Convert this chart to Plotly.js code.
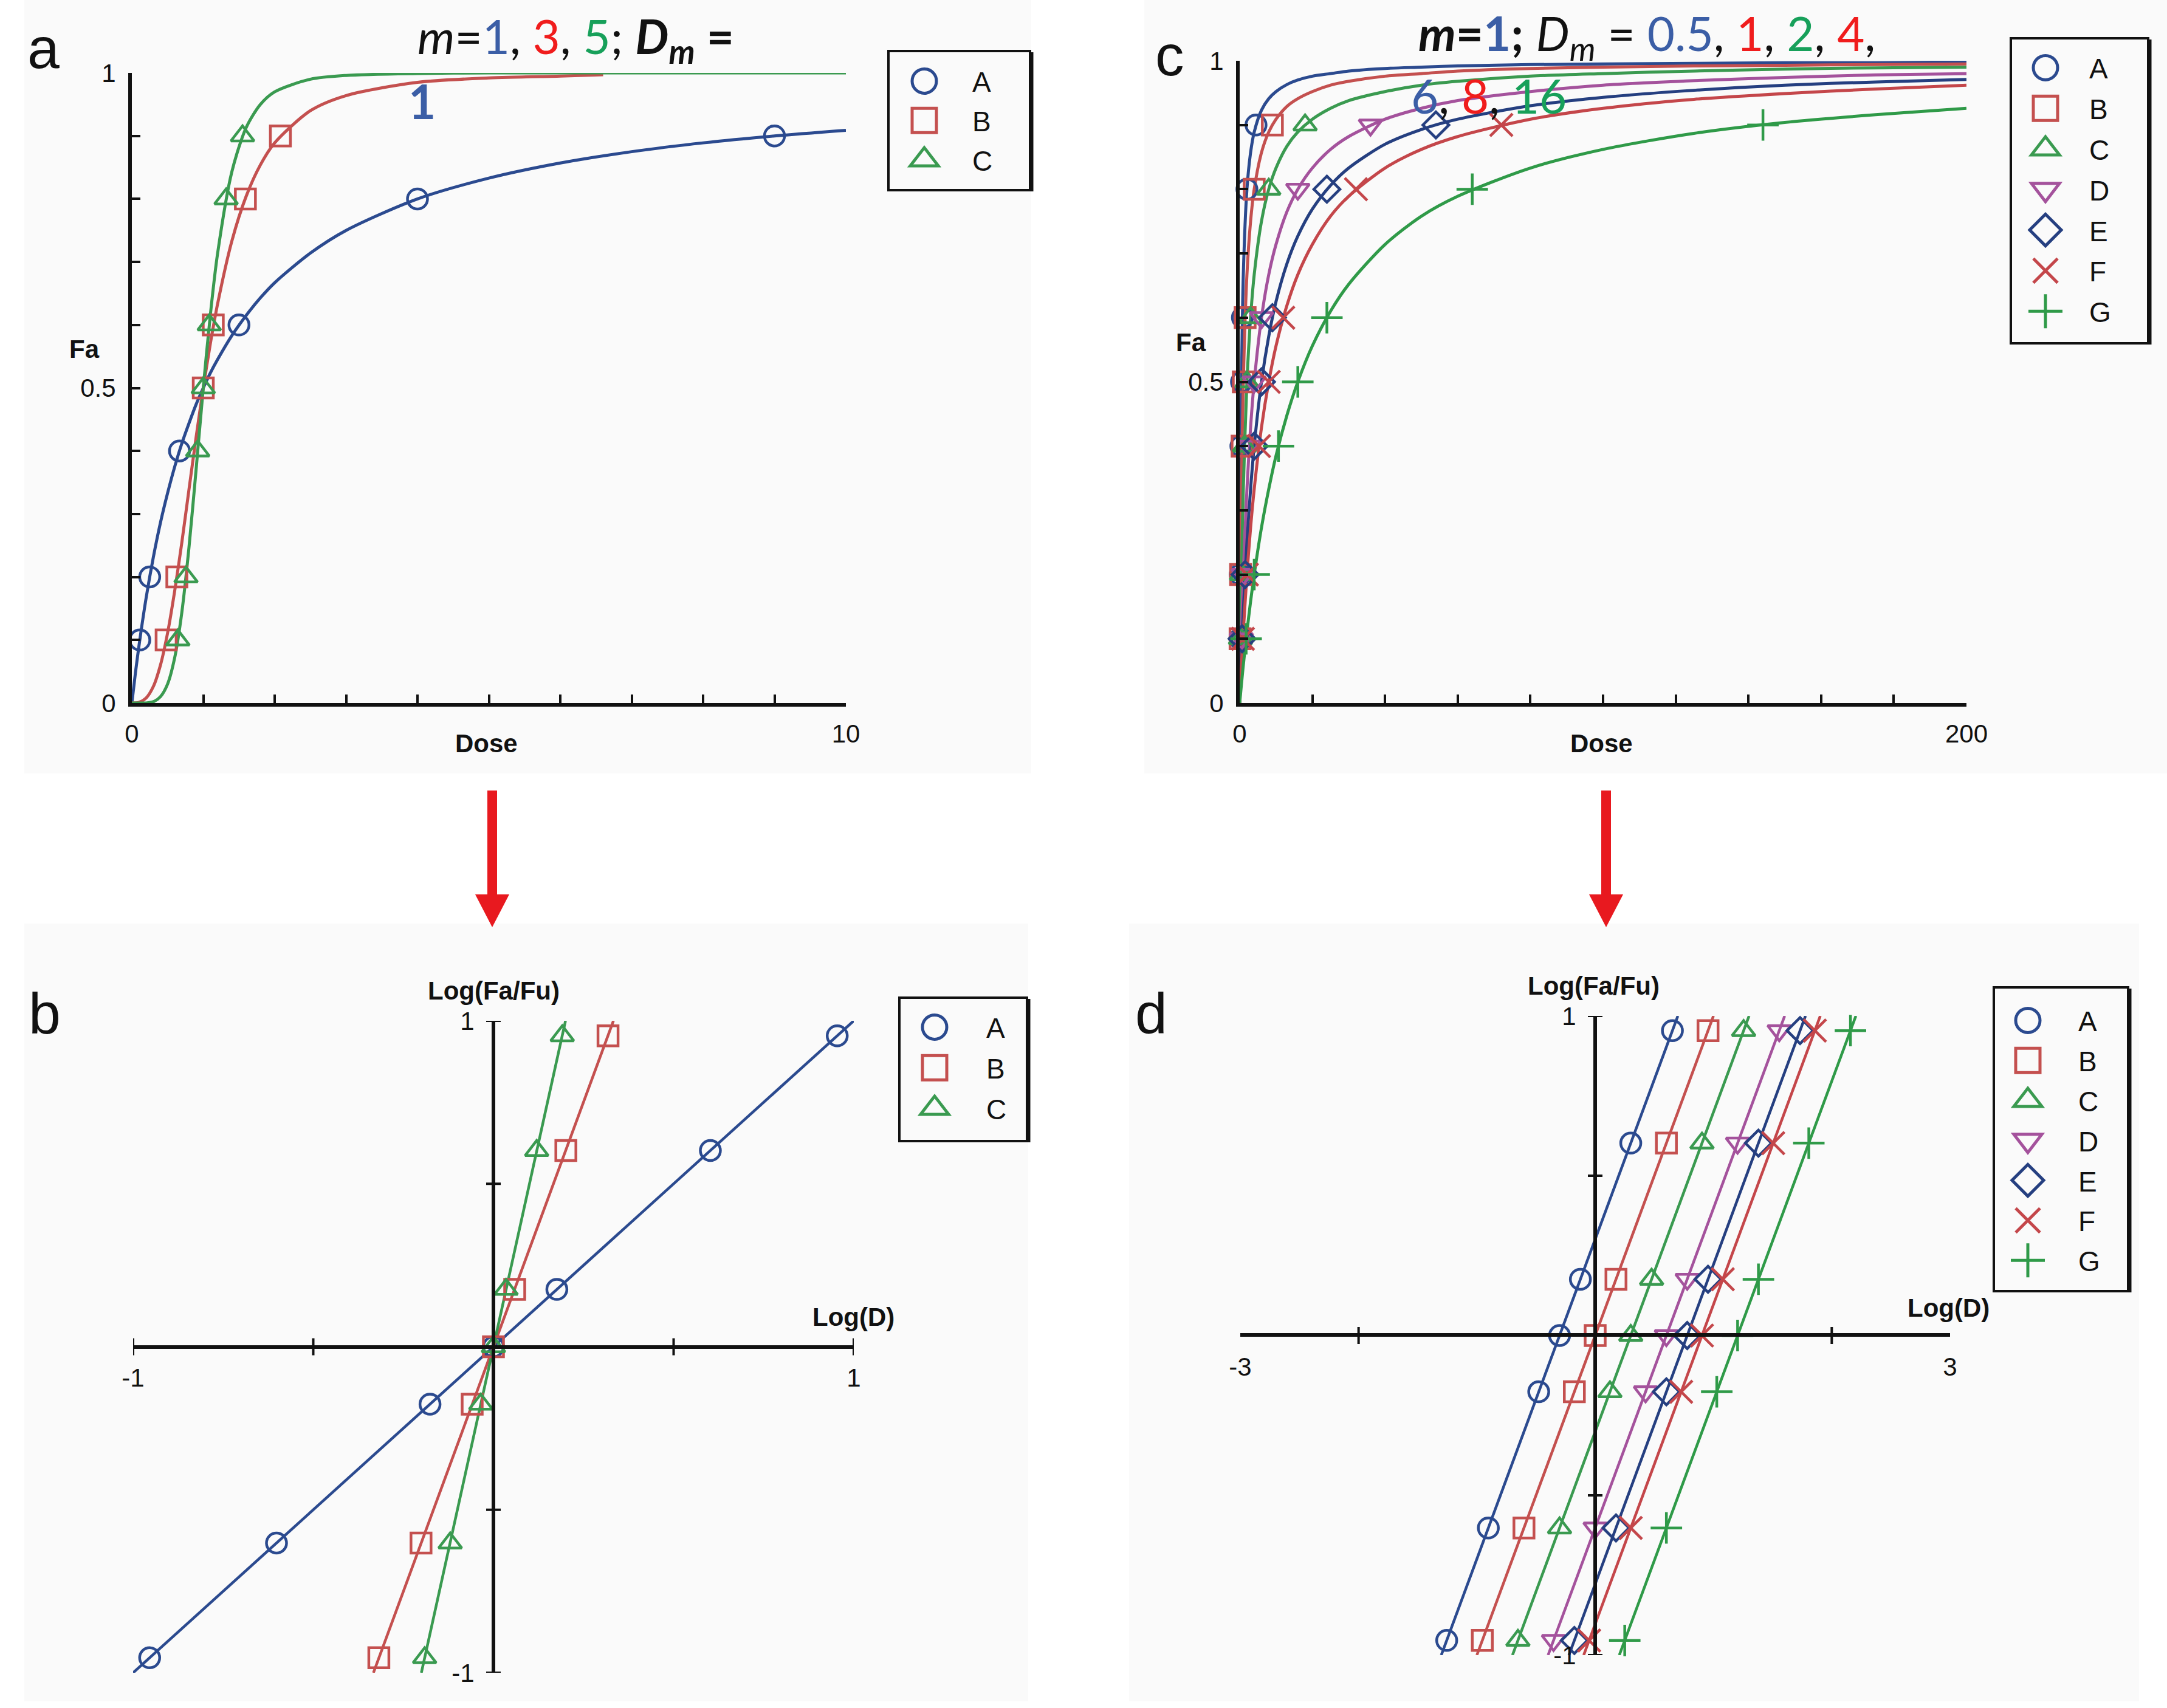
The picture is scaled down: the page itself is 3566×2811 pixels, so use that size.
<!DOCTYPE html>
<html><head><meta charset="utf-8">
<script src="https://cdn.plot.ly/plotly-3.0.1.min.js"></script>
<style>html,body{margin:0;padding:0;background:#fff;}#chart{width:3566px;height:2811px;}</style>
</head><body><div id="chart"></div>
<script>
// ================= DATA =================
const seriesNames = ['A','B','C','D','E','F','G'];

// ---- panel a : Fa vs Dose, m = 1, 3, 5 (Dm = 1) ----
const aCurveDose  = [0,0.05,0.1,0.2,0.3,0.4,0.5,0.6,0.7,0.8,0.9,1,1.1,1.2,1.4,1.6,1.8,2,2.5,3,4,5,6,7,8,9,10];
const aCurveFaA   = [0,0.048,0.091,0.167,0.231,0.286,0.333,0.375,0.412,0.444,0.474,0.5,0.524,0.545,0.583,0.615,0.643,0.667,0.714,0.75,0.8,0.833,0.857,0.875,0.889,0.9,0.909];
const aCurveDoseB = [0,0.1,0.2,0.3,0.4,0.5,0.6,0.7,0.8,0.9,1,1.1,1.2,1.4,1.6,1.8,2,2.5,3,4,5,6,6.6];
const aCurveFaB   = [0,0.001,0.008,0.026,0.06,0.111,0.178,0.255,0.339,0.422,0.5,0.571,0.633,0.733,0.804,0.854,0.889,0.94,0.964,0.985,0.992,0.995,0.997];
const aCurveFaC   = [0,0,0,0,0.002,0.01,0.03,0.072,0.144,0.247,0.371,0.5,0.617,0.713,0.843,0.913,0.95,0.97,0.99,0.996,0.999,1,1,1,1,1,1];
const aMarkDoseA = [0.111,0.25,0.667,1.5,4,9];
const aMarkFaA   = [0.1,0.2,0.4,0.6,0.8,0.9];
const aMarkDoseB = [0.48,0.63,1,1.14,1.59,2.08];
const aMarkFaB   = [0.1,0.2,0.5,0.6,0.8,0.9];
const aMarkDoseC = [0.644,0.758,0.922,1,1.084,1.32,1.55];
const aMarkFaC   = [0.1,0.2,0.4,0.5,0.6,0.8,0.9];
const aXTicks = [0,10];
const aXTickText = ['0','10'];
const aXMinorStep = 1;
const faTicks = [0,0.5,1];
const faTickText = ['0','0.5','1'];
const faMinorStep = 0.1;

// ---- panel c : Fa vs Dose, m = 1, Dm = 0.5 ... 16 ----
const cCurveDose = [0,0.25,0.5,1,2,3,4,6,8,10,13,16,20,25,30,40,50,60,80,100,125,150,175,200];
const cCurveFaA = [0,0.333,0.5,0.667,0.8,0.857,0.889,0.923,0.941,0.952,0.963,0.97,0.976,0.98,0.984,0.988,0.99,0.992,0.994,0.995,0.996,0.997,0.997,0.998];
const cCurveFaB = [0,0.2,0.333,0.5,0.667,0.75,0.8,0.857,0.889,0.909,0.929,0.941,0.952,0.962,0.968,0.976,0.98,0.984,0.988,0.99,0.992,0.993,0.994,0.995];
const cCurveFaC = [0,0.111,0.2,0.333,0.5,0.6,0.667,0.75,0.8,0.833,0.867,0.889,0.909,0.926,0.938,0.952,0.962,0.968,0.976,0.98,0.984,0.987,0.989,0.99];
const cCurveFaD = [0,0.059,0.111,0.2,0.333,0.429,0.5,0.6,0.667,0.714,0.765,0.8,0.833,0.862,0.882,0.909,0.926,0.938,0.952,0.962,0.969,0.974,0.978,0.98];
const cCurveFaE = [0,0.04,0.077,0.143,0.25,0.333,0.4,0.5,0.571,0.625,0.684,0.727,0.769,0.806,0.833,0.87,0.893,0.909,0.93,0.943,0.954,0.962,0.967,0.971];
const cCurveFaF = [0,0.03,0.059,0.111,0.2,0.273,0.333,0.429,0.5,0.556,0.619,0.667,0.714,0.758,0.789,0.833,0.862,0.882,0.909,0.926,0.94,0.949,0.956,0.962];
const cCurveFaG = [0,0.015,0.03,0.059,0.111,0.158,0.2,0.273,0.333,0.385,0.448,0.5,0.556,0.61,0.652,0.714,0.758,0.789,0.833,0.862,0.887,0.904,0.916,0.926];
const cMarkFa = [0.1,0.2,0.4,0.5,0.6,0.8,0.9];
const cMarkDoseA = [0.056,0.125,0.333,0.5,0.75,2,4.5];
const cMarkDoseB = [0.111,0.25,0.667,1,1.5,4,9];
const cMarkDoseC = [0.222,0.5,1.333,2,3,8,18];
const cMarkDoseD = [0.444,1,2.667,4,6,16,36];
const cMarkDoseE = [0.667,1.5,4,6,9,24,54];
const cMarkDoseF = [0.889,2,5.333,8,12,32,72];
const cMarkDoseG = [1.778,4,10.67,16,24,64,144];
const cXTicks = [0,200];
const cXTickText = ['0','200'];
const cXMinorStep = 20;

// ---- panel b : median-effect plot for a ----
const bLogFaFu = [-0.954,-0.602,-0.176,0,0.176,0.602,0.954];
const bLogDA = [-0.954,-0.602,-0.176,0,0.176,0.602,0.954];
const bLogDB = [-0.318,-0.201,-0.059,0,0.059,0.201,0.318];
const bLogDC = [-0.191,-0.12,-0.035,0,0.035,0.12,0.191];
const bLineY = [-1,1];
const bLineXA = [-1,1];
const bLineXB = [-0.333,0.333];
const bLineXC = [-0.2,0.2];
const bTickX = [-1,-0.5,0.5,1];
const bTickY = [-1,-0.5,0.5,1];

// ---- panel d : median-effect plot for c ----
const dLogFaFu = [-0.954,-0.602,-0.176,0,0.176,0.602,0.954];
const dLogDA = [-1.255,-0.903,-0.477,-0.301,-0.125,0.301,0.653];
const dLogDB = [-0.954,-0.602,-0.176,0,0.176,0.602,0.954];
const dLogDC = [-0.653,-0.301,0.125,0.301,0.477,0.903,1.255];
const dLogDD = [-0.352,0,0.426,0.602,0.778,1.204,1.556];
const dLogDE = [-0.176,0.176,0.602,0.778,0.954,1.38,1.732];
const dLogDF = [-0.051,0.301,0.727,0.903,1.079,1.505,1.857];
const dLogDG = [0.25,0.602,1.028,1.204,1.38,1.806,2.158];
const dLineY = [-1,1];
const dLineXA = [-1.301,0.699];
const dLineXB = [-1,1];
const dLineXC = [-0.699,1.301];
const dLineXD = [-0.398,1.602];
const dLineXE = [-0.222,1.778];
const dLineXF = [-0.097,1.903];
const dLineXG = [0.204,2.204];
const dTickX = [-2,2];
const dTickY = [-1,-0.5,0.5,1];

// ================= STYLE =================
const W = 3566, H = 2811;
const px = x => x / W;
const py = y => 1 - y / H;
const colors  = ['#2b4a8f','#c4504f','#3a9a50','#a4529c','#253f80','#c4464a','#2f9a48'];
const symbols = ['circle-open','square-open','triangle-up-open','triangle-down-open','diamond-open','x-thin-open','cross-thin-open'];
const TXT = 'Liberation Sans, Arial, sans-serif';
const TITLEF = 'Lato, Carlito, Calibri, sans-serif';
const INK = '#111';
const BLUE = '#3b5ea6', RED = '#f01c1c', GREEN = '#17a05a';

function curve(x, y, i, xa, ya) {
  return {type:'scatter', mode:'lines', x:x, y:y, xaxis:xa, yaxis:ya, showlegend:false,
          line:{color:colors[i], width:5, shape:'spline', smoothing:0.8}, cliponaxis:false, hoverinfo:'skip'};
}
function straight(x, y, i, xa, ya) {
  return {type:'scatter', mode:'lines', x:x, y:y, xaxis:xa, yaxis:ya, showlegend:false,
          line:{color:colors[i], width:4.5}, cliponaxis:false, hoverinfo:'skip'};
}
function marks(x, y, i, xa, ya, leg) {
  return {type:'scatter', mode:'markers', x:x, y:y, xaxis:xa, yaxis:ya, name:seriesNames[i],
          legend:leg, legendgroup:leg + seriesNames[i], cliponaxis:false,
          marker:{symbol:symbols[i], size:(i >= 5 ? 37 : 33), color:colors[i], line:{color:colors[i], width:4.5}}};
}

const data = [];
// panel a
data.push(curve(aCurveDose, aCurveFaA, 0, 'x', 'y'));
data.push(curve(aCurveDoseB, aCurveFaB, 1, 'x', 'y'));
data.push(curve(aCurveDose, aCurveFaC, 2, 'x', 'y'));
data.push(marks(aMarkDoseA, aMarkFaA, 0, 'x', 'y', 'legend'));
data.push(marks(aMarkDoseB, aMarkFaB, 1, 'x', 'y', 'legend'));
data.push(marks(aMarkDoseC, aMarkFaC, 2, 'x', 'y', 'legend'));
// panel c
const cCurves = [cCurveFaA,cCurveFaB,cCurveFaC,cCurveFaD,cCurveFaE,cCurveFaF,cCurveFaG];
const cMarks = [cMarkDoseA,cMarkDoseB,cMarkDoseC,cMarkDoseD,cMarkDoseE,cMarkDoseF,cMarkDoseG];
cCurves.forEach((c, i) => data.push(curve(cCurveDose, c, i, 'x2', 'y2')));
cMarks.forEach((m, i) => data.push(marks(m, cMarkFa, i, 'x2', 'y2', 'legend3')));
// panel b
[bLineXA,bLineXB,bLineXC].forEach((lx, i) => data.push(straight(lx, bLineY, i, 'x3', 'y3')));
[bLogDA,bLogDB,bLogDC].forEach((lx, i) => data.push(marks(lx, bLogFaFu, i, 'x3', 'y3', 'legend2')));
// panel d
[dLineXA,dLineXB,dLineXC,dLineXD,dLineXE,dLineXF,dLineXG].forEach((lx, i) => data.push(straight(lx, dLineY, i, 'x4', 'y4')));
[dLogDA,dLogDB,dLogDC,dLogDD,dLogDE,dLogDF,dLogDG].forEach((lx, i) => data.push(marks(lx, dLogFaFu, i, 'x4', 'y4', 'legend4')));

// ================= LAYOUT =================
const axBase = {showgrid:false, zeroline:false, showline:true, linecolor:INK, linewidth:6,
  tickcolor:INK, tickwidth:4, tickfont:{family:TXT, size:42, color:INK}, automargin:false, fixedrange:true};
const minorIn = step => ({ticks:'inside', dtick:step, tick0:0, ticklen:14, tickwidth:4, tickcolor:INK, showgrid:false});

function legendBox(x, y, iw, gap) {
  return {x:px(x), y:py(y), xanchor:'left', yanchor:'top', bgcolor:'rgba(0,0,0,0)', borderwidth:0,
          itemwidth:iw, font:{family:TXT, size:46, color:INK}, tracegroupgap:gap};
}

const layout = {
  width:W, height:H, margin:{l:0, r:0, t:0, b:0},
  paper_bgcolor:'#ffffff', plot_bgcolor:'rgba(0,0,0,0)', showlegend:true,
  xaxis: Object.assign({}, axBase, {domain:[px(217), px(1392)], range:[0,10], anchor:'y',
    ticks:'inside', ticklen:14, tickmode:'array', tickvals:aXTicks, ticktext:aXTickText, ticklabelstandoff:9, minor:minorIn(aXMinorStep)}),
  yaxis: Object.assign({}, axBase, {domain:[py(1157), py(120)], range:[0,1], anchor:'x',
    ticks:'inside', ticklen:14, tickmode:'array', tickvals:faTicks, ticktext:faTickText, ticklabelstandoff:12, minor:minorIn(faMinorStep)}),
  xaxis2: Object.assign({}, axBase, {domain:[px(2040), px(3236)], range:[0,200], anchor:'y2',
    ticks:'inside', ticklen:14, tickmode:'array', tickvals:cXTicks, ticktext:cXTickText, ticklabelstandoff:9, minor:minorIn(cXMinorStep)}),
  yaxis2: Object.assign({}, axBase, {domain:[py(1157), py(100)], range:[0,1], anchor:'x2',
    ticks:'inside', ticklen:14, tickmode:'array', tickvals:faTicks, ticktext:faTickText, ticklabelstandoff:12, minor:minorIn(faMinorStep)}),
  xaxis3: Object.assign({}, axBase, {domain:[px(219), px(1405)], range:[-1,1], anchor:'free', position:py(2217),
    ticks:'', tickmode:'array', tickvals:[-1,1], ticktext:['-1','1'], ticklabelstandoff:12}),
  yaxis3: Object.assign({}, axBase, {domain:[py(2753), py(1680)], range:[-1,1], anchor:'free', position:px(812),
    ticks:'', tickmode:'array', tickvals:[-1,1], ticktext:['-1','1'], ticklabelstandoff:20}),
  xaxis4: Object.assign({}, axBase, {domain:[px(2041), px(3209)], range:[-3,3], anchor:'free', position:py(2197),
    ticks:'', tickmode:'array', tickvals:[-3,3], ticktext:['-3','3'], ticklabelstandoff:14}),
  yaxis4: Object.assign({}, axBase, {domain:[py(2724), py(1672)], range:[-1,1], anchor:'free', position:px(2625),
    ticks:'', tickmode:'array', tickvals:[-1,1], ticktext:['-1','1'], ticklabelstandoff:20}),
  // text left edge - (itemwidth + 10) = legend x ; marker centre sits (itemwidth+10)/2 left of the text
  legend:  legendBox(1600 - 158, 97,   148, 2),
  legend2: legendBox(1623 - 170, 1654, 160, 4),
  legend3: legendBox(3438 - 144, 75,   134, 4),
  legend4: legendBox(3420 - 166, 1643, 156, 3),
  shapes: [], annotations: []
};

// faint panel backgrounds
[[40,0,1697,1273],[1883,0,3566,1273],[40,1520,1692,2800],[1858,1520,3520,2800]].forEach(r => {
  layout.shapes.push({type:'rect', xref:'paper', yref:'paper', x0:px(r[0]), x1:px(r[2]), y0:py(r[3]), y1:py(r[1]),
    fillcolor:'#fafafa', line:{width:0}, layer:'below'});
});
// legend boxes
[[1462,84,1695,313],[1480,1642,1690,1878],[3309,63,3535,565],[3281,1625,3502,2125]].forEach(r => {
  layout.shapes.push({type:'rect', xref:'paper', yref:'paper', x0:px(r[0]), x1:px(r[2]), y0:py(r[3]), y1:py(r[1]),
    line:{color:INK, width:4}, fillcolor:'rgba(0,0,0,0)'});
  layout.shapes.push({type:'line', xref:'paper', yref:'paper', x0:px(r[2]+3), x1:px(r[2]+3), y0:py(r[3]+2), y1:py(r[1]+2),
    line:{color:INK, width:5}});
});
// crossing tick marks for b and d
function xTick(v, xa, ya) { return {type:'line', xref:xa, yref:ya, x0:v, x1:v, ysizemode:'pixel', yanchor:0, y0:-14, y1:14, line:{color:INK, width:4}}; }
function yTick(v, xa, ya) { return {type:'line', xref:xa, yref:ya, y0:v, y1:v, xsizemode:'pixel', xanchor:0, x0:-12, x1:12, line:{color:INK, width:4}}; }
bTickX.forEach(v => layout.shapes.push(xTick(v, 'x3', 'y3')));
bTickY.forEach(v => layout.shapes.push(yTick(v, 'x3', 'y3')));
dTickX.forEach(v => layout.shapes.push(xTick(v, 'x4', 'y4')));
dTickY.forEach(v => layout.shapes.push(yTick(v, 'x4', 'y4')));
// red arrows
[810, 2643].forEach(cx => {
  layout.shapes.push({type:'rect', xref:'paper', yref:'paper', x0:px(cx-8), x1:px(cx+8), y0:py(1478), y1:py(1301),
    fillcolor:'#e8191f', line:{width:0}});
  layout.shapes.push({type:'path', xref:'paper', yref:'paper',
    path:'M'+px(cx-28)+','+py(1472)+' L'+px(cx+28)+','+py(1472)+' L'+px(cx)+','+py(1526)+' Z',
    fillcolor:'#e8191f', line:{width:0}});
});

function ann(x, y, text, font, xanchor) {
  return {xref:'paper', yref:'paper', x:px(x), y:py(y), text:text, showarrow:false,
          xanchor:xanchor || 'center', yanchor:'middle', font:font};
}
const panelFont = {family:TXT, size:95, color:INK};
const axTitleFont = {family:TXT, size:42, color:INK};
const titleFont = {family:TITLEF, size:78, color:INK};
layout.annotations.push(ann(71, 79, 'a', panelFont));
layout.annotations.push(ann(1925, 91, 'c', panelFont));
layout.annotations.push(ann(73, 1668, 'b', panelFont));
layout.annotations.push(ann(1894, 1668, 'd', panelFont));
layout.annotations.push(ann(800, 1223, '<b>Dose</b>', axTitleFont));
layout.annotations.push(ann(139, 574, '<b>Fa</b>', axTitleFont));
layout.annotations.push(ann(2635, 1223, '<b>Dose</b>', axTitleFont));
layout.annotations.push(ann(1960, 563, '<b>Fa</b>', axTitleFont));
layout.annotations.push(ann(812, 1630, '<b>Log(Fa/Fu)</b>', axTitleFont));
layout.annotations.push(ann(1404, 2167, '<b>Log(D)</b>', axTitleFont));
layout.annotations.push(ann(2622, 1622, '<b>Log(Fa/Fu)</b>', axTitleFont));
layout.annotations.push(ann(3206, 2152, '<b>Log(D)</b>', axTitleFont));
const sp = (c, t) => '<span style="color:' + c + '">' + t + '</span>';
layout.annotations.push(ann(948, 64,
  '<i>m</i>=' + sp(BLUE,'1') + ', ' + sp(RED,'3') + ', ' + sp(GREEN,'5') + '; <b><i>D<sub>m</sub></i> =</b>', titleFont));
layout.annotations.push(ann(694, 166, '<b>' + sp(BLUE,'1') + '</b>', titleFont));
layout.annotations.push(ann(2710, 60,
  '<b><i>m</i>=' + sp(BLUE,'1') + ';</b> <i>D<sub>m</sub></i> = ' + sp(BLUE,'0.5') + ', ' + sp(RED,'1') + ', ' + sp(GREEN,'2') + ', ' + sp(RED,'4') + ',', titleFont));
layout.annotations.push(ann(2450, 157, sp(BLUE,'6') + ', ' + sp(RED,'8') + ', ' + sp(GREEN,'16'), titleFont));

// ================= DRAW =================
const LEG_SCALE = 2.5;
function enlargeLegendSymbols() {
  document.querySelectorAll('g.legendpoints path.scatterpts').forEach(pt => {
    if (pt.dataset.orig === undefined) pt.dataset.orig = pt.getAttribute('transform') || '';
    pt.setAttribute('transform', pt.dataset.orig + ' scale(' + LEG_SCALE + ')');
    pt.style.vectorEffect = 'non-scaling-stroke';
    pt.style.strokeWidth = '5px';
  });
}
const gd = document.getElementById('chart');
Plotly.newPlot(gd, data, layout, {staticPlot:true, displayModeBar:false}).then(() => {
  enlargeLegendSymbols();
  gd.on('plotly_afterplot', enlargeLegendSymbols);
  setTimeout(enlargeLegendSymbols, 50);
  setTimeout(enlargeLegendSymbols, 300);
});
</script>
</body></html>
